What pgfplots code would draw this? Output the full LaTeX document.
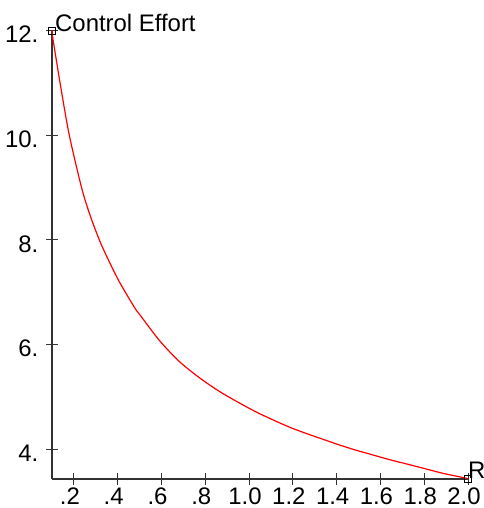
\documentclass[border=0pt]{standalone}
\usepackage{pgfplots}
\pgfplotsset{compat=1.18}
\usepackage{fontspec}
\setmainfont{Liberation Sans}
\begin{document}
\fontsize{24}{28}\selectfont
\begin{tikzpicture}
\useasboundingbox (-52bp,-29bp) rectangle (432bp,479bp);
\begin{axis}[
  at={(0,0)}, anchor=south west,
  scale only axis, width=416bp, height=448.5bp,
  xmin=0.1, xmax=2.0, ymin=3.43, ymax=12,
  axis lines=left,
  axis line style={-, line width=1.2bp, black!80},
  xtick={0.2,0.4,0.6,0.8,1.0,1.2,1.4,1.6,1.8,2.0},
  xticklabels={.2,.4,.6,.8,1.0,1.2,1.4,1.6,1.8,2.0},
  ytick={4,6,8,10,12},
  yticklabels={4.,6.,8.,10.,12.},
  tick align=center,
  major tick length=11bp,
  tick style={black!80, line width=1bp},
  xticklabel style={xshift=-4bp, yshift=5bp},
  yticklabel style={yshift=-4bp},
  tick label style={font=\fontsize{24}{28}\selectfont},
  clip=false,
]
% control effort against R
\addplot[red, line width=1.2bp, smooth, tension=0.5] coordinates {
  (0.100,12.00) (0.105,11.82) (0.140,10.92) (0.179,10.00) (0.235,9.00)
  (0.273,8.48) (0.319,7.97) (0.364,7.56) (0.410,7.18) (0.478,6.70)
  (0.501,6.57) (0.592,6.07) (0.683,5.67) (0.775,5.36) (0.866,5.10)
  (0.957,4.88) (1.033,4.71) (1.109,4.56) (1.185,4.42) (1.261,4.30)
  (1.337,4.19) (1.413,4.08) (1.489,3.98) (1.565,3.89) (1.641,3.80)
  (1.717,3.72) (1.792,3.64) (1.884,3.54) (1.975,3.46) (2.000,3.435)
};
\addplot[only marks, mark=square, mark size=3.5bp, black, mark options={line width=0.8bp}]
  coordinates {(0.1,12) (2.0,3.435)};
\node[anchor=base west, inner sep=0pt, font=\fontsize{24}{28}\selectfont]
  at (axis cs:0.1,12) [xshift=3bp, yshift=-1bp] {Control Effort};
\node[anchor=base west, inner sep=0pt, font=\fontsize{24}{28}\selectfont]
  at (axis cs:2.0,3.43) {R};
\end{axis}
\end{tikzpicture}
\end{document}
